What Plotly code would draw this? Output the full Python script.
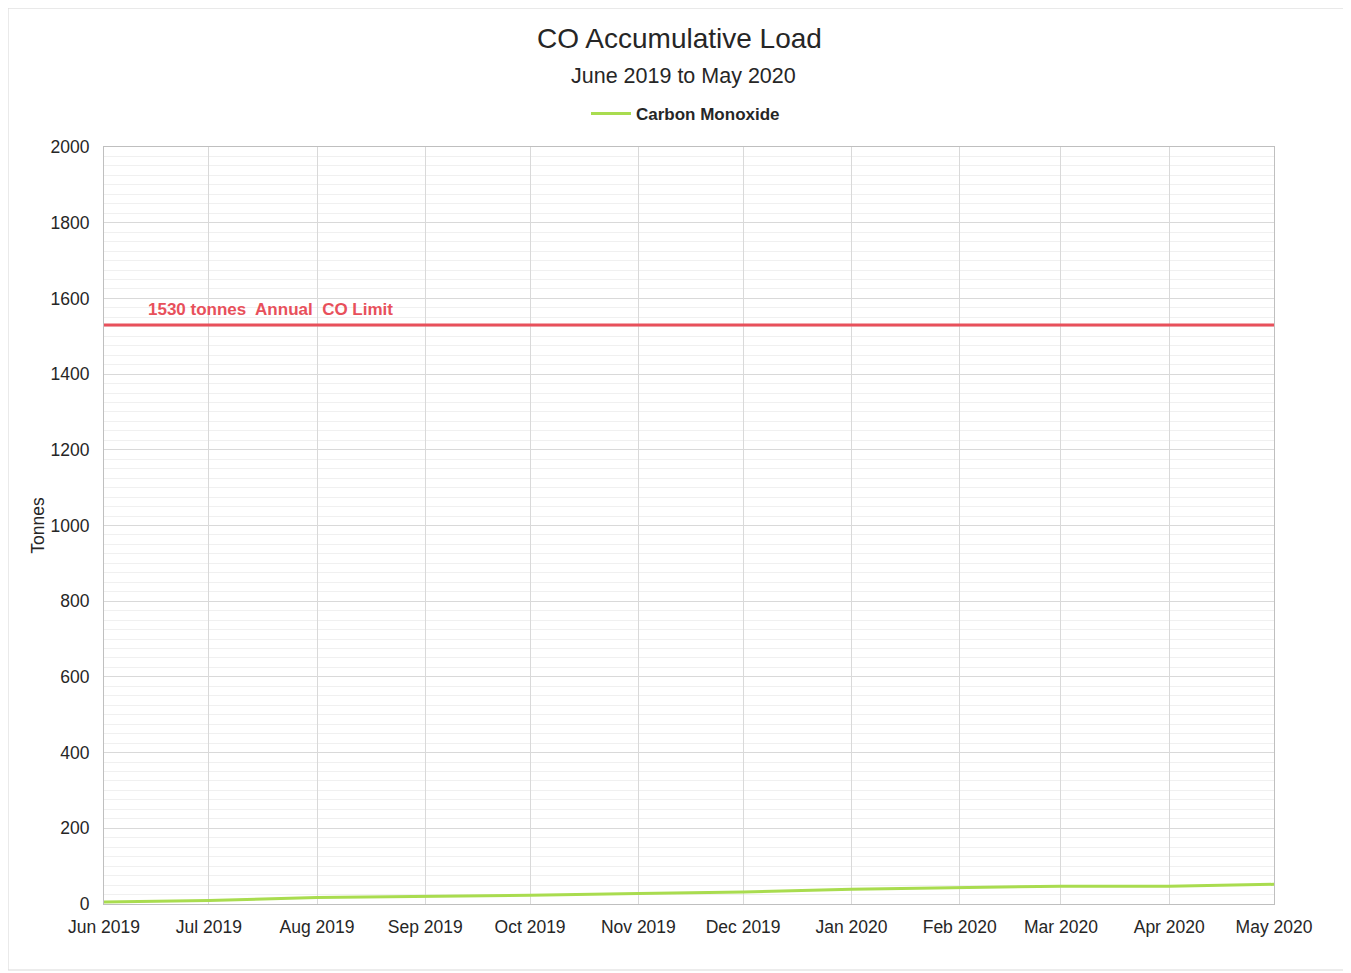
import plotly.graph_objects as go

months = ["2019-06-01", "2019-07-01", "2019-08-01", "2019-09-01", "2019-10-01", "2019-11-01",
          "2019-12-01", "2020-01-01", "2020-02-01", "2020-03-01", "2020-04-01", "2020-05-01"]
co_load = [5, 9, 17, 20, 23, 28, 32, 39, 44, 47, 47, 52]
limit_value = 1530
limit_label = "1530 tonnes  Annual  CO Limit"

FONT = "Liberation Sans, Arial, sans-serif"

fig = go.Figure()
fig.add_trace(go.Scatter(
    x=months, y=co_load, mode="lines", name="<b>Carbon Monoxide</b>",
    line=dict(color="#a9dc4f", width=3),
))

fig.add_shape(type="line", xref="paper", x0=0, x1=1, yref="y", y0=limit_value, y1=limit_value,
              line=dict(color="#e8505b", width=3), layer="above")
fig.add_annotation(text="<b>" + limit_label + "</b>", xref="x", x="2019-06-13", xanchor="left",
                   yref="y", y=limit_value, yanchor="bottom", yshift=4, showarrow=False,
                   font=dict(family=FONT, size=17, color="#e8505b"))

# subtitle
fig.add_annotation(text="June 2019 to May 2020", xref="paper", x=0.4955, xanchor="center",
                   yref="paper", y=1.0938, yanchor="middle", showarrow=False,
                   font=dict(family=FONT, size=21.5, color="#262626"))

# outer border
fig.add_shape(type="rect", xref="paper", yref="paper", x0=-0.0820, x1=1.0630, y0=-0.0872, y1=1.1835,
              line=dict(color="#d9d9d9", width=1))

fig.update_layout(
    width=1343, height=965,
    margin=dict(l=96, r=77, t=139, b=69),
    paper_bgcolor="white", plot_bgcolor="white",
    font=dict(family=FONT, size=16, color="#262626"),
    title=dict(text="CO Accumulative Load",
               x=0.5, xanchor="center", xref="container", y=0.969, yanchor="middle", yref="container",
               font=dict(family=FONT, size=28, color="#262626")),
    showlegend=True,
    legend=dict(orientation="h", x=0.497, xanchor="center", y=1.0436, yanchor="middle",
                font=dict(family=FONT, size=17, color="#262626"),
                itemwidth=40),
    xaxis=dict(
        type="date", range=["2019-06-01", "2020-05-01"], dtick="M1", tick0="2019-06-01",
        tickformat="%b %Y", showgrid=True, gridcolor="#d9d9d9", gridwidth=1,
        showline=True, linecolor="#bfbfbf", linewidth=1, mirror=True, ticks="",
        tickfont=dict(size=17.5), zeroline=False, ticklabelstandoff=7,
    ),
    yaxis=dict(
        range=[0, 2000], dtick=200, showgrid=True, gridcolor="#d9d9d9", gridwidth=1,
        minor=dict(dtick=25, showgrid=True, gridcolor="#f0f0f0", gridwidth=1),
        showline=True, linecolor="#bfbfbf", linewidth=1, mirror=True, ticks="",
        tickfont=dict(size=17.5), zeroline=False, ticklabelstandoff=10,
        title=dict(text="Tonnes", font=dict(size=17.5), standoff=1),
    ),
)

fig.write_html("out.html")
